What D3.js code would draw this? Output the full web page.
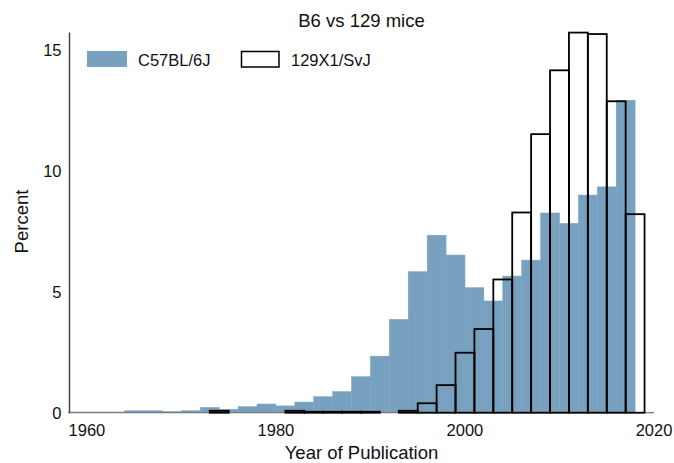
<!DOCTYPE html>
<html>
<head>
<meta charset="utf-8">
<script src="https://cdn.jsdelivr.net/npm/d3@7"></script>
<style>
  html, body { margin: 0; padding: 0; background: #fff; }
  svg { display: block; font-family: "Liberation Sans", Arial, sans-serif; }
</style>
</head>
<body>
<svg id="chart" width="674" height="463"></svg>
<script>
// Histogram bins (2-year width); start year of each bin and its percent
const b6BinStarts = [1958, 1960, 1962, 1964, 1966, 1968, 1970, 1972, 1974, 1976,
                     1978, 1980, 1982, 1984, 1986, 1988, 1990, 1992, 1994, 1996,
                     1998, 2000, 2002, 2004, 2006, 2008, 2010, 2012, 2014, 2016];
const b6Percent   = [0.03, 0.03, 0.03, 0.08, 0.08, 0.05, 0.08, 0.22, 0.14, 0.25,
                     0.36, 0.28, 0.44, 0.66, 0.87, 1.49, 2.34, 3.86, 5.83, 7.34,
                     6.52, 5.17, 4.62, 5.65, 6.31, 8.26, 7.83, 9.00, 9.34, 12.92];

const s129BinStarts = [1973, 1975, 1977, 1979, 1981, 1983, 1985, 1987, 1989, 1991,
                       1993, 1995, 1997, 1999, 2001, 2003, 2005, 2007, 2009, 2011,
                       2013, 2015, 2017];
const s129Percent   = [0.08, 0, 0, 0, 0.08, 0.04, 0.04, 0.04, 0.04, 0,
                       0.08, 0.39, 1.14, 2.48, 3.46, 5.51, 8.28, 11.52, 14.16, 15.72,
                       15.66, 12.88, 8.21];

const binWidth = 2;
const xTicks = [1960, 1980, 2000, 2020];
const yTicks = [0, 5, 10, 15];
const seriesNames = ["C57BL/6J", "129X1/SvJ"];
const titleText = "B6 vs 129 mice";
const xTitle = "Year of Publication";
const yTitle = "Percent";

const blue = "#78a1bf";

const svg = d3.select("#chart");

const x = d3.scaleLinear().domain([1958, 2020]).range([68, 654]);
const yMax = d3.max(s129Percent.concat(b6Percent));
const y = d3.scaleLinear().domain([0, yMax]).range([412.7, 412.7 - yMax * 24.18]);

const b6 = b6BinStarts.map((s, i) => ({ x0: s, x1: s + binWidth, v: b6Percent[i] }));
const s129 = s129BinStarts.map((s, i) => ({ x0: s, x1: s + binWidth, v: s129Percent[i] }))
  .filter(d => d.v > 0);

// C57BL/6J filled bars
svg.append("g").selectAll("rect").data(b6).join("rect")
  .attr("x", d => x(d.x0))
  .attr("width", d => x(d.x1) - x(d.x0))
  .attr("y", d => y(d.v))
  .attr("height", d => y(0) - y(d.v))
  .attr("fill", blue)
  .attr("stroke", blue)
  .attr("stroke-width", 0.5);

// x axis line
svg.append("line")
  .attr("x1", 69).attr("x2", x(2020))
  .attr("y1", y(0)).attr("y2", y(0))
  .attr("stroke", "#7a7a7a").attr("stroke-width", 1.2);

// 129X1/SvJ outlined bars
svg.append("g").selectAll("rect").data(s129).join("rect")
  .attr("x", d => x(d.x0))
  .attr("width", d => x(d.x1) - x(d.x0))
  .attr("y", d => y(d.v))
  .attr("height", d => Math.max(0.01, y(0) - y(d.v)))
  .attr("fill", "none")
  .attr("stroke", "#000")
  .attr("stroke-width", 1.8);

// y axis line
svg.append("line")
  .attr("x1", 69.5).attr("x2", 69.5)
  .attr("y1", y(yMax)).attr("y2", y(0) + 0.5)
  .attr("stroke", "#3a3f45").attr("stroke-width", 1.4);

// tick labels
svg.append("g").selectAll("text").data(xTicks).join("text")
  .attr("x", d => x(d))
  .attr("y", 436)
  .attr("text-anchor", "middle")
  .attr("font-size", "16.5px")
  .attr("fill", "#111")
  .text(d => d);

svg.append("g").selectAll("text").data(yTicks).join("text")
  .attr("x", 61.5)
  .attr("y", d => y(d) + 6)
  .attr("text-anchor", "end")
  .attr("font-size", "16.5px")
  .attr("fill", "#111")
  .text(d => d);

// titles
svg.append("text")
  .attr("x", 361.5).attr("y", 26.5)
  .attr("text-anchor", "middle")
  .attr("font-size", "18.5px")
  .attr("fill", "#111")
  .text(titleText);

svg.append("text")
  .attr("x", 361.5).attr("y", 458.5)
  .attr("text-anchor", "middle")
  .attr("font-size", "18.5px")
  .attr("fill", "#111")
  .text(xTitle);

svg.append("text")
  .attr("transform", "translate(28,221.5) rotate(-90)")
  .attr("text-anchor", "middle")
  .attr("font-size", "18.5px")
  .attr("fill", "#111")
  .text(yTitle);

// legend
const legend = svg.append("g");
legend.append("rect")
  .attr("x", 87).attr("y", 51).attr("width", 40).attr("height", 16)
  .attr("fill", blue);
legend.append("text")
  .attr("x", 138).attr("y", 66)
  .attr("font-size", "16.5px").attr("fill", "#111")
  .text(seriesNames[0]);
legend.append("rect")
  .attr("x", 241.5).attr("y", 51.5).attr("width", 37.5).attr("height", 15.5)
  .attr("fill", "#fff").attr("stroke", "#000").attr("stroke-width", 1.5);
legend.append("text")
  .attr("x", 291).attr("y", 66)
  .attr("font-size", "16.5px").attr("fill", "#111")
  .text(seriesNames[1]);
</script>
</body>
</html>
